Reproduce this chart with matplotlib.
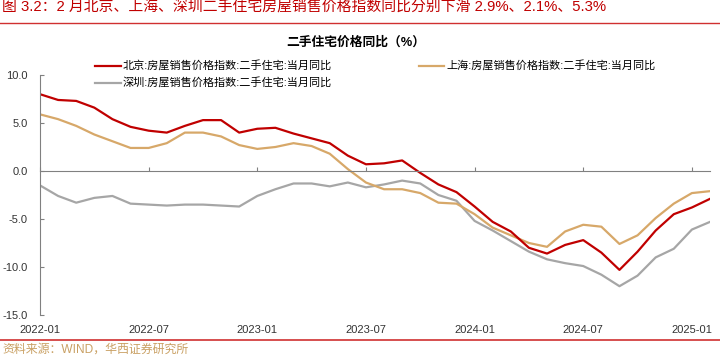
import matplotlib
matplotlib.use("Agg")
import matplotlib.pyplot as plt
from matplotlib.lines import Line2D
import numpy as np
import pandas as pd

plt.rcParams['font.family'] = ['Liberation Sans', 'Noto Sans CJK SC', 'DejaVu Sans']

# --- datos (lectura del gráfico), 2022-01 .. 2025-02
months = list(pd.period_range('2022-01', '2025-02', freq='M').strftime('%Y-%m'))

beijing = [8.0, 7.4, 7.3, 6.6, 5.4, 4.6, 4.2, 4.0, 4.7, 5.3, 5.3, 4.0,
           4.4, 4.5, 3.9, 3.4, 2.9, 1.6, 0.7, 0.8, 1.1, -0.2, -1.4, -2.2,
           -3.7, -5.3, -6.3, -8.0, -8.6, -7.7, -7.2, -8.5, -10.3, -8.4, -6.2, -4.5,
           -3.8, -2.9]
shanghai = [5.9, 5.4, 4.7, 3.8, 3.1, 2.4, 2.4, 2.9, 4.0, 4.0, 3.6, 2.7,
            2.3, 2.5, 2.9, 2.6, 1.8, 0.2, -1.2, -1.9, -1.9, -2.3, -3.3, -3.4,
            -4.5, -5.9, -6.7, -7.5, -7.9, -6.3, -5.6, -5.8, -7.6, -6.7, -4.9, -3.4,
            -2.3, -2.1]
shenzhen = [-1.5, -2.6, -3.3, -2.8, -2.6, -3.4, -3.5, -3.6, -3.5, -3.5, -3.6, -3.7,
            -2.6, -1.9, -1.3, -1.3, -1.6, -1.2, -1.7, -1.4, -1.0, -1.3, -2.5, -3.1,
            -5.2, -6.2, -7.3, -8.4, -9.2, -9.6, -9.9, -10.8, -12.0, -10.9, -9.0, -8.1,
            -6.1, -5.3]

labels = ['北京:房屋销售价格指数:二手住宅:当月同比',
          '上海:房屋销售价格指数:二手住宅:当月同比',
          '深圳:房屋销售价格指数:二手住宅:当月同比']
title = '图 3.2：2 月北京、上海、深圳二手住宅房屋销售价格指数同比分别下滑 2.9%、2.1%、5.3%'
subtitle = '二手住宅价格同比（%）'
source = '资料来源：WIND，华西证券研究所'

RED = '#C00000'
TAN = '#D7A869'
GRAY = '#A6A6A6'
AXC = '#808080'


def main():
    fig = plt.figure(figsize=(7.2, 3.58), dpi=100)
    ax = fig.add_axes([40/720, 1-315/358, 670/720, 240/358])
    x = np.arange(len(months))

    hz, = ax.plot(x, shenzhen, color=GRAY, lw=1.6)
    hs, = ax.plot(x, shanghai, color=TAN, lw=1.6)
    hb, = ax.plot(x, beijing, color=RED, lw=1.6)

    ax.set_xlim(0, len(months) - 1)
    ax.set_ylim(-15, 10)
    ax.set_yticks(np.arange(-15, 11, 5))
    ax.set_yticklabels([f'{v:.1f}' for v in np.arange(-15, 11, 5)])

    for s in ['top', 'right']:
        ax.spines[s].set_visible(False)
    ax.spines['bottom'].set_position(('data', 0))
    ax.spines['bottom'].set_color(AXC)
    ax.spines['left'].set_color(AXC)

    tick_idx = [i for i, m in enumerate(months) if m[-2:] in ('01', '07')]
    ax.set_xticks(tick_idx)
    ax.tick_params(axis='x', direction='in', length=3, color=AXC, labelbottom=False)
    ax.tick_params(axis='y', direction='in', length=3, color=AXC, pad=9,
                   labelsize=8, labelcolor='#333333')

    # etiquetas del eje x abajo
    sec = ax.secondary_xaxis('bottom')
    sec.set_xticks(tick_idx)
    sec.set_xticklabels([months[i] for i in tick_idx])
    sec.tick_params(length=0, pad=7, labelsize=8, labelcolor='#333333')
    sec.spines['bottom'].set_visible(False)

    fig.legend(handles=[hb, hz, hs], labels=[labels[0], labels[2], labels[1]],
               loc='upper left', bbox_to_anchor=(95/720, 1-61/358), ncol=2,
               frameon=False, fontsize=8, handlelength=2.3, handletextpad=0.2,
               columnspacing=7.8, borderpad=0, borderaxespad=0, labelspacing=0.5)

    fig.text(2/720, 1-7/358, title, color=RED, fontsize=10.7, va='center')
    fig.add_artist(Line2D([0, 1], [1-22.7/358]*2, transform=fig.transFigure,
                          color='#D03030', lw=1))
    fig.text(356/720, 1-43/358, subtitle, ha='center', va='center',
             fontsize=9.2, fontweight='bold')
    fig.add_artist(Line2D([0, 1], [1-340/358]*2, transform=fig.transFigure,
                          color='#D03030', lw=1.2))
    fig.text(2/720, 1-350/358, source, color='#C9A063', fontsize=8.6, va='center')

    fig.savefig('out.png', dpi=100)


if __name__ == "__main__":
    main()
